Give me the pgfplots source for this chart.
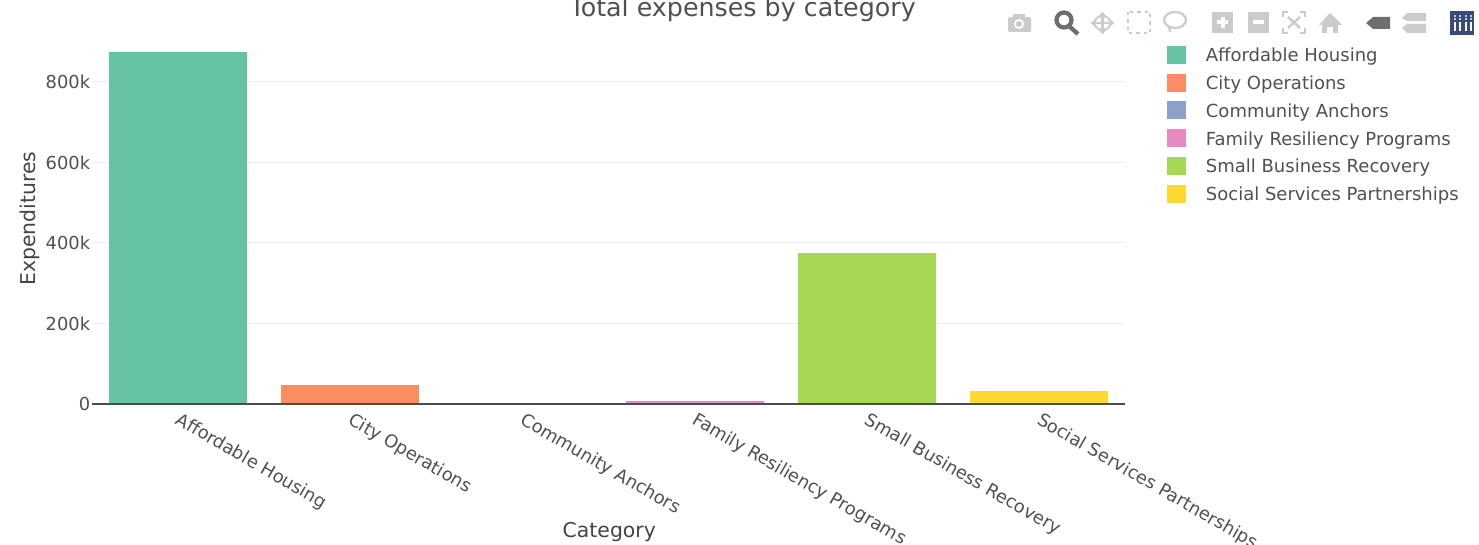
\documentclass[border=0pt]{standalone}
\usepackage{pgfplots}
\pgfplotsset{compat=1.18}
\usepackage{fontspec}
\setmainfont{DejaVu Sans}
\definecolor{txt}{HTML}{505050}
\definecolor{ico}{HTML}{CBCBCB}
\definecolor{icod}{HTML}{6E6E6E}
\definecolor{logo}{HTML}{3A4A7A}
\definecolor{c1}{HTML}{66C2A5}
\definecolor{c2}{HTML}{FC8D62}
\definecolor{c3}{HTML}{8DA0CB}
\definecolor{c4}{HTML}{E78AC3}
\definecolor{c5}{HTML}{A6D854}
\definecolor{c6}{HTML}{FFD92F}
\newcommand{\fs}[1]{\fontsize{#1}{#1}\selectfont}
\begin{document}
\begin{tikzpicture}
\useasboundingbox (0,0) rectangle (1109.25pt,408pt);
\clip (0,0) rectangle (1109.25pt,408pt);
\begin{axis}[
  at={(68.95pt,105pt)}, anchor=south west,
  scale only axis, width=775.1pt, height=278.25pt,
  xmin=-0.5, xmax=5.5, ymin=0, ymax=921700,
  axis lines=left, axis line style={draw=none},
  x axis line style={draw=none},
  xtick={0,1,2,3,4,5},
  xticklabels={Affordable Housing,City Operations,Community Anchors,Family Resiliency Programs,Small Business Recovery,Social Services Partnerships},
  ytick={0,200000,400000,600000,800000},
  yticklabels={0,200k,400k,600k,800k},
  scaled y ticks=false,
  major tick length=0pt,
  ymajorgrids, major grid style={draw=black!7, line width=0.75pt},
  tick label style={text=txt, font=\fs{13.4pt}},
  x tick label style={rotate=-30, anchor=north west, xshift=1.7pt, yshift=-0.2pt},
  y tick label style={xshift=2.2pt},
  xlabel={Category}, ylabel={Expenditures},
  label style={text=txt!85!black, font=\fs{15.3pt}},
  xlabel style={at={(0.5,0)}, anchor=center, yshift=-96.3pt, xshift=0.5pt},
  ylabel style={at={(0,0.5)}, anchor=center, yshift=46.4pt},
  ybar, bar width=103.5pt, bar shift=0pt,
  legend cell align=left,
  legend style={at={(1.0405,0.9655)}, anchor=north west, draw=none, fill=none, font=\fs{13.5pt}, text=txt,
    inner sep=0pt, outer sep=0pt, row sep=5.9pt, nodes={inner sep=0pt, text height=9.6pt, text depth=3pt},
    /tikz/every odd column/.append style={column sep=15pt}},
  legend image code/.code={\fill[#1] (0pt,-4.85pt) rectangle (14pt,8.65pt);},
  clip=false,
]
\addplot[draw=none, fill=c1] coordinates {(0,874500)};
\addplot[draw=none, fill=c2] coordinates {(1,47000)};
\addplot[draw=none, fill=c3] coordinates {(2,500)};
\addplot[draw=none, fill=c4] coordinates {(3,7500)};
\addplot[draw=none, fill=c5] coordinates {(4,375000)};
\addplot[draw=none, fill=c6] coordinates {(5,32000)};
\legend{Affordable Housing,City Operations,Community Anchors,Family Resiliency Programs,Small Business Recovery,Social Services Partnerships}
\draw[draw=black!70, line width=0.9pt] (rel axis cs:0,0) -- (rel axis cs:1,0);
\end{axis}
\node[text=txt, font=\fs{19pt}, anchor=base] at (557pt,395.8pt) {Total expenses by category};
% modebar icons, pixel positions converted to pt
\begin{scope}[x=0.75pt,y=-0.75pt,yshift=408pt]
 \fill[ico,rounded corners=1pt] (1008,17) rectangle (1031,32); \fill[ico] (1013,14) rectangle (1025,18);
 \fill[white] (1019,24) circle (5); \fill[ico] (1019,24) circle (3);
 \draw[icod,line width=3.2pt] (1064,20) circle (7.5); \draw[icod,line width=3.2pt] (1070,27) -- (1078,34);
 \draw[ico,line width=2pt,<->] (1091,23) -- (1114,23); \draw[ico,line width=2pt,<->] (1102.5,12) -- (1102.5,34);
 \draw[ico,line width=2.2pt,dash pattern=on 2.5pt off 3pt] (1128,12) rectangle (1150,33);
 \draw[ico,line width=1.7pt] (1175,20) ellipse (11 and 8); \draw[ico,line width=1.7pt] (1169,26) -- (1170,32);
 \fill[ico] (1212,12) rectangle (1233,33); \fill[white] (1220.5,17) rectangle (1224.5,28); \fill[white] (1217,20.5) rectangle (1228,24.5);
 \fill[ico] (1248,12) rectangle (1269,33); \fill[white] (1253,20.5) rectangle (1264,24.5);
 \draw[ico,line width=1.2pt] (1283,17) -- (1283,12) -- (1288,12) (1300,12) -- (1305,12) -- (1305,17) (1305,28) -- (1305,33) -- (1300,33) (1288,33) -- (1283,33) -- (1283,28);
 \draw[ico,line width=1.8pt] (1288,17) -- (1300,28) (1300,17) -- (1288,28);
 \fill[ico] (1330,13) -- (1342,25) -- (1338,25) -- (1338,33) -- (1333,33) -- (1333,27) -- (1327,27) -- (1327,33) -- (1322,33) -- (1322,25) -- (1319,25) -- cycle;
 \fill[icod] (1366,23) -- (1373,17) -- (1390,17) -- (1390,29) -- (1373,29) -- cycle;
 \fill[ico] (1402,18) -- (1407,13) -- (1426,13) -- (1426,21) -- (1407,21) -- cycle;
 \fill[ico] (1402,28) -- (1407,24) -- (1426,24) -- (1426,33) -- (1407,33) -- cycle;
 \fill[logo] (1450,11) rectangle (1474,35);
 \foreach \xx in {1454,1459,1465,1470} {\fill[white] (\xx,22) rectangle (\xx+1.6,31); \fill[white!70!logo] (\xx,15) rectangle (\xx+1.6,17); \fill[white!70!logo] (\xx,18.5) rectangle (\xx+1.6,20);}
\end{scope}
\end{tikzpicture}
\end{document}
